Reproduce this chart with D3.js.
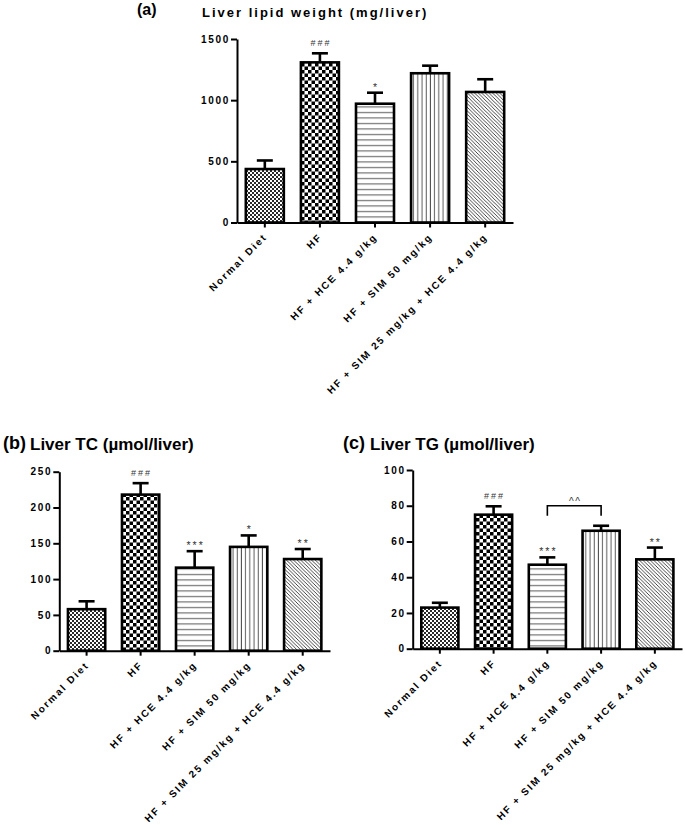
<!DOCTYPE html>
<html><head><meta charset="utf-8">
<script src="https://cdn.jsdelivr.net/npm/d3@7"></script>
<style>
body{margin:0;background:#fff}
svg{display:block}
text{font-family:"Liberation Sans",Arial,sans-serif}
</style>
</head><body>
<svg id="chart" width="685" height="825"></svg>
<script>
// ---------- data ----------
const categories = ["Normal Diet", "HF", "HF + HCE 4.4 g/kg", "HF + SIM 50 mg/kg", "HF + SIM 25 mg/kg + HCE 4.4 g/kg"];

const lipidWeight    = [437, 1309, 971, 1220, 1067];
const lipidWeightErr = [70, 74, 90, 62, 104];
const lipidWeightSig = ["", "###", "*", "", ""];
const lipidTicks     = [0, 500, 1000, 1500];

const liverTC    = [58, 218, 116, 145, 128];
const liverTCErr = [11, 16, 23, 16, 14];
const liverTCSig = ["", "###", "***", "*", "**"];
const tcTicks    = [0, 50, 100, 150, 200, 250];

const liverTG    = [23, 75, 47, 66, 50];
const liverTGErr = [2.7, 4.7, 4.1, 2.8, 6.6];
const liverTGSig = ["", "###", "***", "", "**"];
const tgTicks    = [0, 20, 40, 60, 80, 100];
const tgBracket  = {from: 2, to: 3, value: 80, label: "^^"};

// ---------- drawing ----------
const svg = d3.select("#chart");
svg.append("rect").attr("width", 685).attr("height", 825).attr("fill", "#fff");
const defs = svg.append("defs");

function pattern(id, w, h, draw) {
  const p = defs.append("pattern").attr("id", id)
    .attr("patternUnits", "userSpaceOnUse").attr("width", w).attr("height", h);
  p.append("rect").attr("width", w).attr("height", h).attr("fill", "#fff");
  draw(p);
}
pattern("p0", 4, 4, p => {
  p.append("rect").attr("width", 2).attr("height", 2).attr("fill", "#2a2a2a");
  p.append("rect").attr("x", 2).attr("y", 2).attr("width", 2).attr("height", 2).attr("fill", "#2a2a2a");
});
pattern("p1", 7, 7, p => {
  p.append("rect").attr("width", 3.5).attr("height", 3.5).attr("fill", "#000");
  p.append("rect").attr("x", 3.5).attr("y", 3.5).attr("width", 3.5).attr("height", 3.5).attr("fill", "#000");
});
pattern("p2", 6, 5.5, p => {
  p.append("line").attr("x1", 0).attr("x2", 6).attr("y1", 2.5).attr("y2", 2.5)
    .attr("stroke", "#555").attr("stroke-width", 1);
});
pattern("p3", 4.2, 6, p => {
  p.append("line").attr("x1", 2).attr("x2", 2).attr("y1", 0).attr("y2", 6)
    .attr("stroke", "#444").attr("stroke-width", 0.9);
});
pattern("p4", 3.6, 3.6, p => {
  p.append("path").attr("d", "M0,0L3.6,3.6M-1,2.6L1,4.6M2.6,-1L4.6,1")
    .attr("stroke", "#222").attr("stroke-width", 0.85);
});

function panel(o) {
  const x = d3.scaleBand().domain(categories).range([o.x0, o.x1])
    .paddingInner(0.31).paddingOuter(0.16);
  const y = d3.scaleLinear().domain([0, o.max]).range([o.y0, o.y1]);
  const g = svg.append("g");
  const cx = i => x(categories[i]) + x.bandwidth() / 2;

  // bars
  g.selectAll("rect.bar").data(o.values).join("rect").attr("class", "bar")
    .attr("x", (d, i) => x(categories[i]))
    .attr("y", d => y(d))
    .attr("width", x.bandwidth())
    .attr("height", d => y(0) - y(d))
    .attr("fill", (d, i) => `url(#p${i})`)
    .attr("stroke", "#000").attr("stroke-width", 2.6);

  // error bars (upper only)
  o.values.forEach((v, i) => {
    const top = y(v + o.errs[i]);
    g.append("line").attr("x1", cx(i)).attr("x2", cx(i)).attr("y1", y(v)).attr("y2", top)
      .attr("stroke", "#000").attr("stroke-width", 2.6);
    g.append("line").attr("x1", cx(i) - 8).attr("x2", cx(i) + 8).attr("y1", top).attr("y2", top)
      .attr("stroke", "#000").attr("stroke-width", 2.6);
    const s = o.sig[i];
    if (s) {
      g.append("text").attr("x", cx(i) + 1).attr("y", top - (s[0] === "#" ? 7 : 2))
        .attr("text-anchor", "middle").attr("font-size", s[0] === "#" ? 9 : 10.5)
        .attr("letter-spacing", 2)
        .attr("fill", "#333").text(s);
    }
  });

  // y axis
  const ya = g.append("g").attr("transform", `translate(${o.x0},0)`)
    .call(d3.axisLeft(y).tickValues(o.ticks).tickFormat(d3.format("d"))
      .tickSize(6).tickSizeOuter(0).tickPadding(1));
  // x axis
  const xa = g.append("g").attr("transform", `translate(0,${o.y0})`)
    .call(d3.axisBottom(x).tickSize(5).tickSizeOuter(0));
  [ya, xa].forEach(a => {
    a.select(".domain").attr("stroke", "#000").attr("stroke-width", 2);
    a.selectAll(".tick line").attr("stroke", "#000").attr("stroke-width", 2);
    a.selectAll("text").attr("font-family", "'Liberation Sans', Arial, sans-serif")
      .attr("font-weight", "bold").attr("fill", "#000");
  });
  ya.selectAll("text").attr("font-size", 10).attr("letter-spacing", 1.7);
  xa.selectAll("text").attr("font-size", 10).attr("letter-spacing", 1.9)
    .attr("x", 0).attr("y", 0).attr("dy", 0)
    .attr("text-anchor", "end")
    .attr("transform", "translate(3,15) rotate(-45)");

  // bracket
  if (o.bracket) {
    const b = o.bracket, by = y(b.value);
    g.append("path")
      .attr("d", `M${cx(b.from)},${by + 10}V${by}H${cx(b.to)}V${by + 10}`)
      .attr("fill", "none").attr("stroke", "#000").attr("stroke-width", 1.6);
    g.append("text").attr("x", (cx(b.from) + cx(b.to)) / 2 + 1).attr("y", by - 1)
      .attr("text-anchor", "middle").attr("font-size", 10).attr("letter-spacing", 1.5)
      .attr("fill", "#333").text(b.label);
  }

  // titles
  svg.append("text").attr("x", o.tagX).attr("y", o.tagY)
    .attr("font-family", "'Liberation Serif','Times New Roman',serif")
    .attr("font-weight", "bold").attr("font-size", o.tagSize).text(o.tag);
  svg.append("text").attr("x", o.titleX).attr("y", o.titleY)
    .attr("font-weight", "bold").attr("font-size", o.titleSize)
    .attr("letter-spacing", o.titleLs).text(o.title);
}

panel({values: lipidWeight, errs: lipidWeightErr, sig: lipidWeightSig, ticks: lipidTicks, max: 1500,
  x0: 237, x1: 513, y0: 222.5, y1: 39,
  tag: "(a)", tagX: 137, tagY: 15, tagSize: 16,
  title: "Liver lipid weight (mg/liver)", titleX: 202, titleY: 16.5, titleSize: 13, titleLs: 2});

panel({values: liverTC, errs: liverTCErr, sig: liverTCSig, ticks: tcTicks, max: 250,
  x0: 59.3, x1: 330, y0: 650.7, y1: 471.7,
  tag: "(b)", tagX: 3, tagY: 448.5, tagSize: 18,
  title: "Liver TC (\u00b5mol/liver)", titleX: 30, titleY: 449.5, titleSize: 17, titleLs: 0});

panel({values: liverTG, errs: liverTGErr, sig: liverTGSig, ticks: tgTicks, max: 100,
  x0: 412.7, x1: 682, y0: 648.7, y1: 470, bracket: tgBracket,
  tag: "(c)", tagX: 343, tagY: 448.5, tagSize: 18,
  title: "Liver TG (\u00b5mol/liver)", titleX: 370, titleY: 449.5, titleSize: 17, titleLs: 0});
</script>
</body></html>
